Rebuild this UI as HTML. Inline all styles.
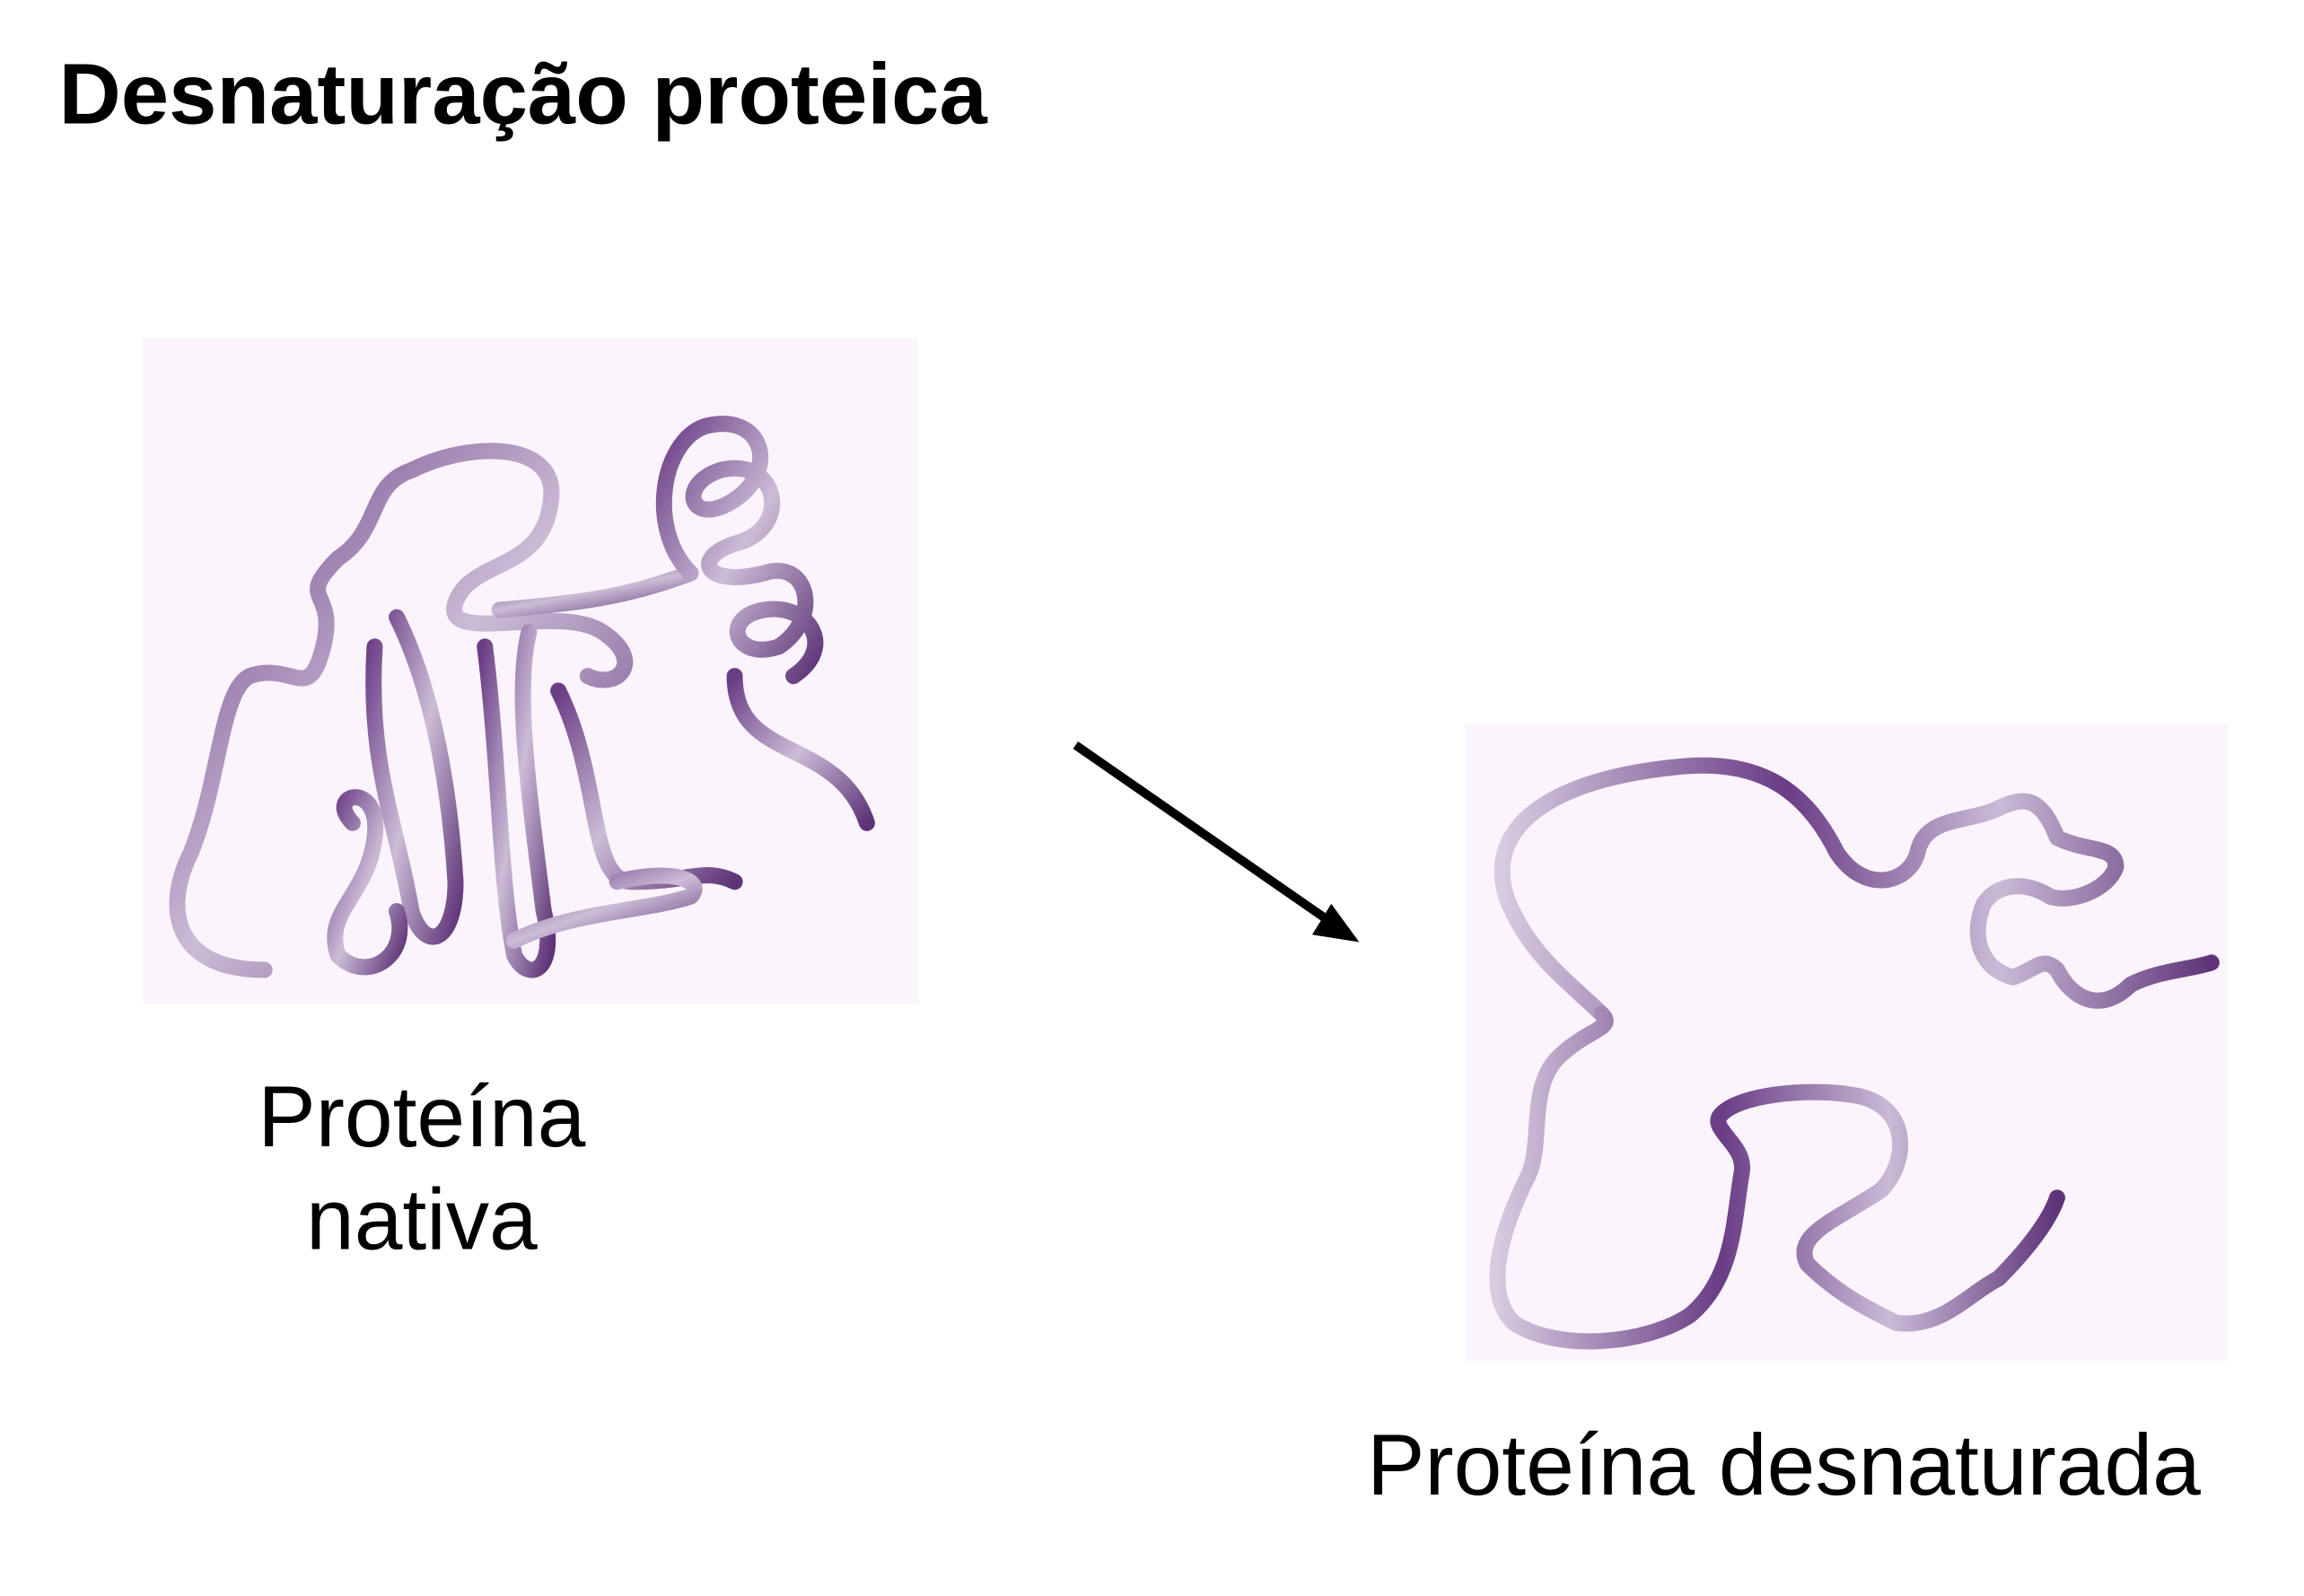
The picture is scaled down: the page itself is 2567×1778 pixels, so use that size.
<!DOCTYPE html>
<html><head><meta charset="utf-8"><style>
html,body{margin:0;padding:0;background:#fff;width:2567px;height:1778px;overflow:hidden}
svg{display:block}
text{font-family:"Liberation Sans",Arial,sans-serif;fill:#000}
</style></head><body>
<svg width="2567" height="1778" viewBox="0 0 1568 1086" preserveAspectRatio="none">
<defs>
<linearGradient id="rib" x1="0" y1="0" x2="1" y2="1">
<stop offset="0" stop-color="#6a3d86"/><stop offset="0.5" stop-color="#cbbcd6"/><stop offset="1" stop-color="#5e3478"/>
</linearGradient>
<linearGradient id="rib2" x1="0" y1="0" x2="1" y2="0">
<stop offset="0" stop-color="#d6cbe0"/><stop offset="0.4" stop-color="#6a3d86"/><stop offset="0.7" stop-color="#c9bad6"/><stop offset="1" stop-color="#5e3478"/>
</linearGradient>
</defs>
<text x="40" y="84" font-size="58.6" font-weight="bold">Desnaturação proteica</text>

<g>
<rect x="97" y="230" width="528" height="453" fill="#fcf4fc"/>
<g fill="none" stroke="url(#rib)" stroke-width="11" stroke-linecap="round" stroke-linejoin="round">
<path d="M180,660 C120,660 110,620 130,580 C150,530 150,470 170,460 C200,450 210,480 220,440 C230,400 200,410 230,380 C260,360 250,330 280,320 C320,300 380,300 375,340 C370,390 320,380 310,410 C300,440 380,410 410,430 C440,450 420,470 400,460"/>
<path d="M255,440 C250,520 270,560 280,620 C290,650 310,640 310,600 C305,520 290,460 270,420"/>
<path d="M330,440 C340,520 340,600 350,650 C360,670 380,660 370,620 C360,540 350,470 360,430"/>
<path d="M380,470 C410,530 400,600 430,600 C470,600 480,590 500,600"/>
<path d="M240,560 C220,540 260,530 255,570 C250,610 220,620 230,650 C250,670 280,650 270,620"/>
<path d="M340,415 C400,410 430,405 470,390"/>
<path d="M470,390 C440,360 450,300 480,290 C520,280 530,320 500,340 C470,360 460,330 490,320 C530,310 540,360 500,370 C470,380 480,400 520,390 C550,380 560,420 530,440 C500,450 490,420 520,415 C550,410 570,440 540,460"/>
<path d="M500,460 C500,520 570,500 590,560"/>
<path d="M420,600 C460,590 480,600 470,610 C440,620 390,620 350,640"/>
</g>
</g>

<g>
<rect x="997" y="492" width="519" height="434" fill="#fcf4fc"/>
<g fill="none" stroke="url(#rib2)" stroke-width="11" stroke-linecap="round" stroke-linejoin="round">
<path d="M1090,690 C1070,670 1040,650 1025,610 C1010,560 1060,530 1140,522 C1200,515 1230,540 1250,580 C1270,610 1300,600 1305,580 C1310,555 1340,560 1360,550 C1380,540 1390,545 1400,570 C1420,580 1440,575 1440,590 C1435,605 1410,615 1395,610 C1380,600 1360,600 1350,615 C1340,640 1350,660 1370,665 C1385,660 1390,650 1400,660 C1410,680 1430,690 1450,670 C1470,660 1490,660 1505,655"/>
<path d="M1090,690 C1100,700 1080,700 1060,720 C1040,740 1050,780 1040,800 C1020,840 1010,880 1030,900 C1060,920 1120,915 1150,895 C1180,870 1180,830 1185,800 C1190,780 1165,770 1170,760 C1180,745 1230,740 1260,745 C1300,750 1300,790 1280,810 C1250,830 1220,840 1230,860 C1250,880 1270,890 1290,900 C1320,905 1340,880 1360,870 C1380,850 1395,830 1400,815"/>
</g>
</g>

<g>
<line x1="732" y1="507" x2="905" y2="627" stroke="#000" stroke-width="6"/>
<polygon points="925,641 893,636 906,615" fill="#000"/>
</g>

<text x="287" y="780" font-size="59" text-anchor="middle">Proteína</text>
<text x="287" y="850" font-size="59" text-anchor="middle">nativa</text>
<text x="1214" y="1017" font-size="59" text-anchor="middle">Proteína desnaturada</text>
</svg>
</body></html>
